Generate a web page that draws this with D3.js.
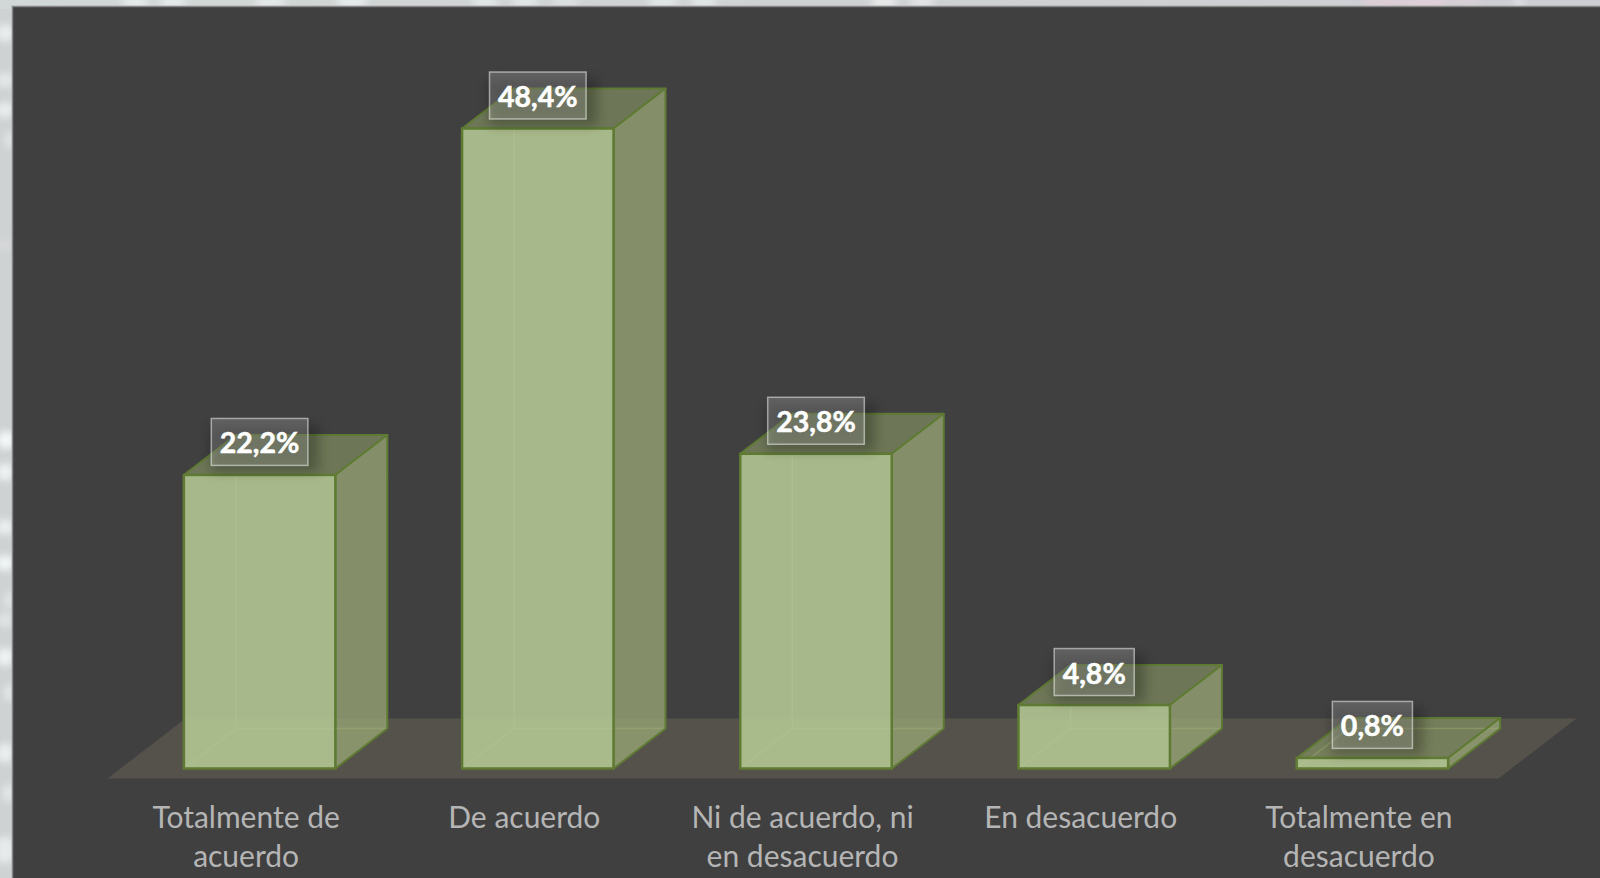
<!DOCTYPE html>
<html>
<head>
<meta charset="utf-8">
<script src="https://cdn.jsdelivr.net/npm/d3@7"></script>
<style>
  html, body { margin: 0; padding: 0; background: #cfd2d3; overflow: hidden; }
  svg { display: block; }
  text { font-family: Lato, "Open Sans", sans-serif; }
</style>
</head>
<body>
<svg id="chart" width="1600" height="878"></svg>
<script>
// Survey answers and their shares, in percent
const categories = ["Totalmente de acuerdo", "De acuerdo", "Ni de acuerdo, ni en desacuerdo", "En desacuerdo", "Totalmente en desacuerdo"];
const shares = [22.2, 48.4, 23.8, 4.8, 0.8];
const axisLines = [["Totalmente de", "acuerdo"], ["De acuerdo"], ["Ni de acuerdo, ni", "en desacuerdo"], ["En desacuerdo"], ["Totalmente en", "desacuerdo"]];
const shareLabels = ["22,2%", "48,4%", "23,8%", "4,8%", "0,8%"];

// Soft highlights in the backdrop frame: [x, y, rx, ry, colour, opacity]
const frameSpots = [
  [5, 33, 9, 9, "#f0f4f4", .8], [5, 80, 9, 8, "#e8ecec", .8], [5, 110, 9, 8, "#eef2f2", .8], [9, 140, 5, 8, "#e8ecec", .7],
  [4, 245, 9, 6, "#d8dadc", .7],
  [6, 440, 9, 9, "#f6fafa", .95], [5, 472, 9, 9, "#f0f4f4", .9], [5, 527, 9, 8, "#eef2f2", .85], [5, 563, 9, 8, "#f4f8f8", .9],
  [9, 600, 5, 9, "#e8ecec", .7], [5, 620, 8, 7, "#e8ecec", .7], [5, 657, 9, 9, "#f2f6f6", .9], [9, 693, 5, 9, "#e8ecec", .8],
  [5, 753, 9, 10, "#eef2f2", .85], [8, 793, 6, 9, "#e8ecec", .8], [5, 850, 10, 14, "#eaeeee", .85],
  [135, 2, 14, 4, "#f0f4f4", .9], [173, 2, 14, 4, "#f0f4f4", .9], [270, 2, 16, 4, "#eef2f2", .9], [352, 2, 16, 4, "#f2f6f6", .9],
  [485, 2, 14, 4, "#eef2f2", .8], [525, 2, 14, 4, "#eef2f2", .8], [566, 2, 14, 4, "#e8ecec", .7], [663, 2, 16, 4, "#eef2f2", .8],
  [704, 2, 14, 4, "#eef2f2", .8], [884, 2, 14, 4, "#f2f4f4", .95], [922, 2, 13, 4, "#eef0f0", .85],
  [1385, 2, 24, 5, "#e0cdd6", 1], [1425, 2, 26, 5, "#e2ced8", 1], [1465, 2, 16, 5, "#dbcfd6", .8], [1519, 2, 6, 4, "#e2e4e8", .9]
];

const width = 1600, height = 878;
const panelLeft = 13, panelTop = 7;
const floorLeft = 107.5, floorRight = 1498.5, floorFront = 778.5;
const floorDepthX = 78, floorDepthY = 60;
const barNear = 1 / 6, barFar = 5 / 6;

const svg = d3.select("#chart");

const defs = svg.append("defs");
defs.append("filter").attr("id", "frameBlur")
  .attr("x", "-60%").attr("y", "-60%").attr("width", "220%").attr("height", "220%")
  .append("feGaussianBlur").attr("stdDeviation", 3.5);
defs.append("filter").attr("id", "labelShadow")
  .attr("x", "-30%").attr("y", "-40%").attr("width", "160%").attr("height", "180%")
  .append("feGaussianBlur").attr("stdDeviation", 6);
const frameGrad = defs.append("linearGradient").attr("id", "frameTone");
frameGrad.append("stop").attr("offset", "0%").attr("stop-color", "#d2d8d7");
frameGrad.append("stop").attr("offset", "50%").attr("stop-color", "#cfd2d2");
frameGrad.append("stop").attr("offset", "100%").attr("stop-color", "#cdced3");

// Backdrop frame around the dark panel
svg.append("rect").attr("width", width).attr("height", panelTop + 2).attr("fill", "url(#frameTone)");
svg.append("g").attr("filter", "url(#frameBlur)")
  .selectAll("ellipse").data(frameSpots).join("ellipse")
  .attr("cx", d => d[0]).attr("cy", d => d[1])
  .attr("rx", d => d[2]).attr("ry", d => d[3])
  .attr("fill", d => d[4]).attr("opacity", d => d[5]);

svg.append("rect")
  .attr("x", panelLeft - .5).attr("y", panelTop - .5)
  .attr("width", width).attr("height", height)
  .attr("fill", "#404040").attr("stroke", "#858585").attr("stroke-width", 1.5);

// Scales: one band per answer along the front edge of the floor
const xAxisScale = d3.scaleBand().domain(categories).range([floorLeft, floorRight]);
const x = d3.scaleBand().domain(categories).range([floorLeft, floorRight])
  .paddingInner(0.4555).paddingOuter(0.22775);
const baseY = floorFront - floorDepthY * barNear;
const y = d3.scaleLinear().domain([0, 48.4]).range([baseY, 128.5]);

// Oblique projection: depth runs from 0 (front of the floor) to 1 (back)
const project = (px, py, depth) => [px + floorDepthX * depth, py - floorDepthY * depth];
const poly = pts => d3.line()(pts) + "Z";

// Floor
svg.append("path")
  .attr("d", poly([
    project(floorLeft, floorFront, 0), project(floorRight, floorFront, 0),
    project(floorRight, floorFront, 1), project(floorLeft, floorFront, 1)
  ]))
  .attr("fill", "#54524a");

const rows = categories.map((c, i) => {
  const x0 = x(c) + floorDepthX * barNear, x1 = x0 + x.bandwidth();
  return {
    name: c, value: shares[i], label: shareLabels[i], lines: axisLines[i],
    x0, x1, yTop: y(shares[i]), yBase: y(0)
  };
});

const depth = barFar - barNear;
const edge = "#5f7a33";
const bars = svg.append("g").selectAll("g").data(rows).join("g");

// Hidden edges seen through the translucent block; the rising edge stops at the front face's top
bars.append("path")
  .attr("d", d => {
    const b = project(d.x0, d.yBase, depth), r = project(d.x1, d.yBase, depth);
    const rise = d.yTop < b[1] ? d3.line()([b, [b[0], d.yTop]]) : "";
    return d3.line()([[d.x0, d.yBase], b, r]) + rise;
  })
  .attr("fill", "none").attr("stroke", "#b0cc82").attr("stroke-width", 1.5).attr("opacity", .42);

// Top face
bars.append("path")
  .attr("d", d => poly([[d.x0, d.yTop], [d.x1, d.yTop], project(d.x1, d.yTop, depth), project(d.x0, d.yTop, depth)]))
  .attr("fill", "rgb(140,157,104)").attr("fill-opacity", .6)
  .attr("stroke", edge).attr("stroke-width", 2).attr("stroke-linejoin", "round");

// Side face
bars.append("path")
  .attr("d", d => poly([[d.x1, d.yBase], [d.x1, d.yTop], project(d.x1, d.yTop, depth), project(d.x1, d.yBase, depth)]))
  .attr("fill", "rgb(155,169,119)").attr("fill-opacity", .75)
  .attr("stroke", edge).attr("stroke-width", 2).attr("stroke-linejoin", "round");

// Front face
bars.append("rect")
  .attr("x", d => d.x0).attr("y", d => d.yTop)
  .attr("width", d => d.x1 - d.x0).attr("height", d => d.yBase - d.yTop)
  .attr("fill", "rgb(179,197,146)").attr("fill-opacity", .9)
  .attr("stroke", edge).attr("stroke-width", 2.5);

// Value labels in translucent boxes centred over each block
const labels = svg.append("g").selectAll("g").data(rows).join("g")
  .attr("transform", d => `translate(${(d.x0 + d.x1) / 2},${d.yTop - 33})`);

labels.append("text")
  .attr("text-anchor", "middle").attr("y", 11.5)
  .attr("font-size", 28.5).attr("font-weight", 700).attr("fill", "#fff")
  .attr("stroke", "#fff").attr("stroke-width", .5)
  .text(d => d.label);

labels.each(function () {
  const g = d3.select(this), w = g.select("text").node().getComputedTextLength() + 17;
  g.insert("rect", "text")
    .attr("x", -w / 2 - 1).attr("y", -16).attr("width", w + 12).attr("height", 46)
    .attr("fill", "#000").attr("opacity", .26).attr("filter", "url(#labelShadow)");
  g.insert("rect", "text")
    .attr("x", -w / 2).attr("y", -23.5).attr("width", w).attr("height", 47)
    .attr("fill", "#fff").attr("fill-opacity", .18)
    .attr("stroke", "#fff").attr("stroke-opacity", .5).attr("stroke-width", 1.5);
});

// Category axis: no line or ticks, labels wrapped to two rows
const axis = svg.append("g")
  .attr("transform", `translate(0,${floorFront})`)
  .call(d3.axisBottom(xAxisScale).tickSize(0).tickFormat(""));
axis.select(".domain").remove();
axis.selectAll(".tick text").remove();
axis.selectAll(".tick").data(rows).append("text")
  .attr("text-anchor", "middle").attr("font-size", 30).attr("fill", "#b5b5b5")
  .selectAll("tspan").data(d => d.lines).join("tspan")
  .attr("x", -0.5).attr("y", (d, i) => 49.5 + i * 39)
  .text(d => d);
</script>
</body>
</html>
